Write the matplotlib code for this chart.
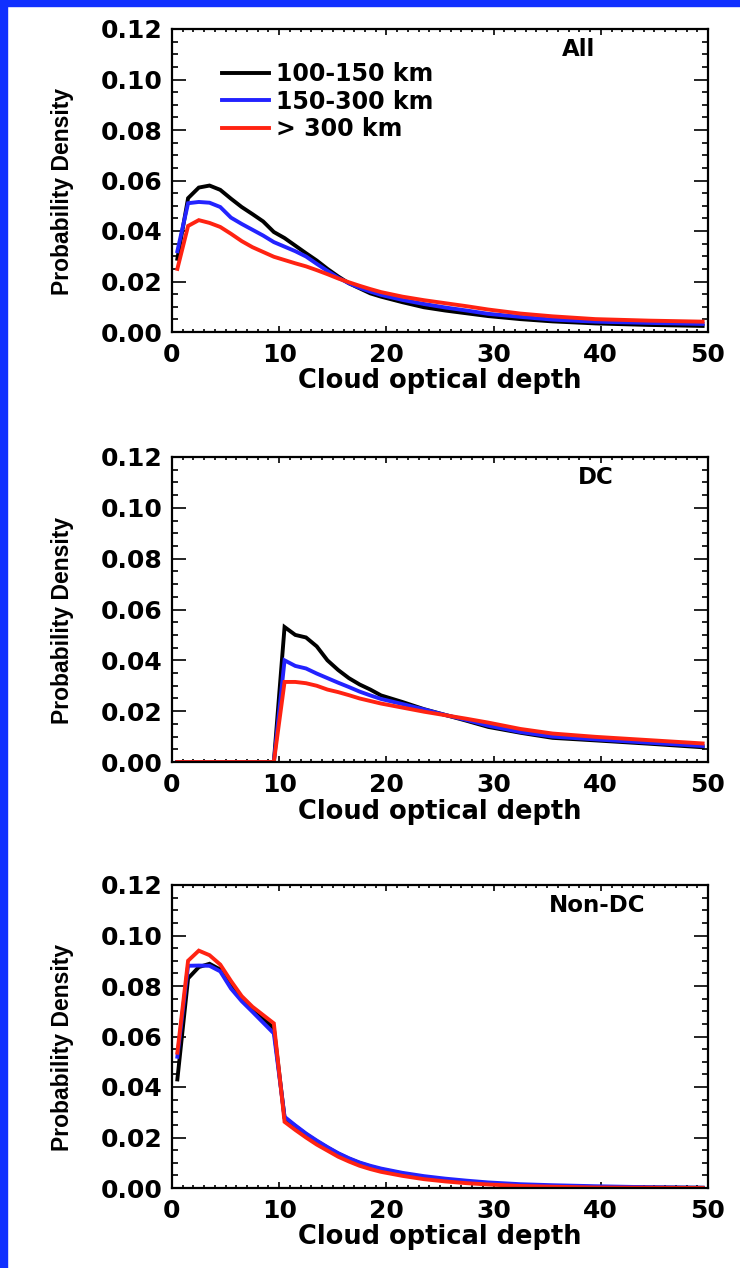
import matplotlib
matplotlib.use("Agg")
import matplotlib.pyplot as plt
from matplotlib.patches import Rectangle
from matplotlib.ticker import MultipleLocator, FormatStrFormatter

# bin centres of cloud optical depth
x_all = [0.5, 1.5, 2.5, 3.5, 4.5, 5.5, 6.5, 7.5, 8.5, 9.5, 10.5, 11.5, 12.5, 13.5, 14.5,
         15.5, 16.5, 17.5, 18.5, 19.5, 21.5, 23.5, 25.5, 27.5, 29.5, 32.5, 35.5, 39.5, 44.5, 49.5]
all_100_150 = [0.029, 0.053, 0.0572, 0.058, 0.0563, 0.0528, 0.0495, 0.0467, 0.0438, 0.0396,
               0.0372, 0.0342, 0.0312, 0.0283, 0.025, 0.022, 0.0193, 0.0173, 0.0153, 0.014,
               0.0118, 0.0098, 0.0085, 0.0074, 0.0063, 0.0051, 0.0042, 0.0034, 0.0028, 0.0024]
all_150_300 = [0.032, 0.051, 0.0515, 0.0512, 0.0495, 0.0453, 0.0428, 0.0405, 0.0382, 0.0356,
               0.0338, 0.032, 0.0299, 0.027, 0.0242, 0.0215, 0.0193, 0.0175, 0.016, 0.0147,
               0.0127, 0.0111, 0.0097, 0.0085, 0.0072, 0.006, 0.0049, 0.0041, 0.0036, 0.0032]
all_300 = [0.025, 0.042, 0.0443, 0.0432, 0.0416, 0.0389, 0.036, 0.0336, 0.0317, 0.0298,
           0.0285, 0.0272, 0.026, 0.0245, 0.0229, 0.0212, 0.0197, 0.0183, 0.017, 0.0158,
           0.014, 0.0126, 0.0114, 0.0102, 0.0089, 0.0073, 0.0062, 0.0051, 0.0045, 0.0041]

x_dc = [0.5, 9.5, 10.5, 11.5, 12.5, 13.5, 14.5, 15.5, 16.5, 17.5, 18.5, 19.5, 21.5, 23.5,
        25.5, 27.5, 29.5, 32.5, 35.5, 39.5, 44.5, 49.5]
dc_100_150 = [0, 0, 0.0531, 0.05, 0.049, 0.0455, 0.04, 0.0362, 0.033, 0.0305, 0.0285, 0.0262,
              0.0236, 0.0208, 0.0185, 0.0162, 0.0138, 0.0115, 0.0095, 0.0085, 0.0072, 0.0058]
dc_150_300 = [0, 0, 0.04, 0.0378, 0.0368, 0.0348, 0.033, 0.0312, 0.0295, 0.0277, 0.0262, 0.0248,
              0.0228, 0.0207, 0.0185, 0.0165, 0.0143, 0.0118, 0.01, 0.0089, 0.0076, 0.0063]
dc_300 = [0, 0, 0.0315, 0.0315, 0.031, 0.03, 0.0285, 0.0275, 0.0263, 0.025, 0.024, 0.023,
          0.0214, 0.0198, 0.0184, 0.017, 0.0155, 0.013, 0.0112, 0.0099, 0.0086, 0.0073]

x_ndc = x_all
ndc_100_150 = [0.043, 0.083, 0.0875, 0.0888, 0.0865, 0.0805, 0.0752, 0.0712, 0.0672, 0.0632,
               0.0278, 0.0245, 0.0213, 0.0185, 0.016, 0.0136, 0.0116, 0.0099, 0.0085, 0.0074,
               0.0057, 0.0043, 0.0032, 0.0024, 0.0018, 0.0011, 0.0007, 0.0004, 0.0002, 0.0001]
ndc_150_300 = [0.052, 0.088, 0.0881, 0.088, 0.0858, 0.079, 0.074, 0.0698, 0.0655, 0.0612,
               0.0282, 0.0248, 0.0216, 0.0188, 0.0162, 0.0138, 0.0118, 0.0101, 0.0088, 0.0077,
               0.006, 0.0047, 0.0037, 0.0029, 0.0022, 0.0015, 0.0011, 0.0007, 0.0003, 0.0001]
ndc_300 = [0.0536, 0.09, 0.094, 0.0922, 0.0885, 0.082, 0.076, 0.0718, 0.0685, 0.0652,
           0.0262, 0.023, 0.02, 0.0172, 0.0148, 0.0124, 0.0105, 0.0088, 0.0075, 0.0064,
           0.0048, 0.0035, 0.0026, 0.0019, 0.0014, 0.0008, 0.0005, 0.0002, 0.0001, 0.0]

labels = ["100-150 km", "150-300 km", "> 300 km"]
colors = ["black", "#2323ff", "#ff2312"]
panel_names = ["All", "DC", "Non-DC"]
panel_name_x = [37.9, 39.5, 39.7]

panels = [(x_all, [all_100_150, all_150_300, all_300]),
          (x_dc, [dc_100_150, dc_150_300, dc_300]),
          (x_ndc, [ndc_100_150, ndc_150_300, ndc_300])]

W, H = 740, 1268
fig = plt.figure(figsize=(W / 100, H / 100), dpi=100)
fig.patch.set_facecolor("white")
# blue frame on left and top edge
fig.patches.append(Rectangle((0, 0), 7 / W, 1, transform=fig.transFigure, color="#1030ff", zorder=0))
fig.patches.append(Rectangle((0, 1 - 6 / H), 1, 6 / H, transform=fig.transFigure, color="#1030ff", zorder=0))

boxes = [(29, 332), (457, 762), (885, 1188)]   # top, bottom in px
tick_font = dict(family="DejaVu Sans", weight="bold", size=18)

for i, ((xs, series), (top, bot)) in enumerate(zip(panels, boxes)):
    ax = fig.add_axes([172 / W, (H - bot) / H, 536 / W, (bot - top) / H])
    for ys, c, lab in zip(series, colors, labels):
        ax.plot(xs, ys, color=c, lw=2.8, label=lab, solid_joinstyle="miter")
    ax.set_xlim(0, 50)
    ax.set_ylim(0, 0.12)
    ax.xaxis.set_major_locator(MultipleLocator(10))
    ax.xaxis.set_minor_locator(MultipleLocator(1))
    ax.yaxis.set_major_locator(MultipleLocator(0.02))
    ax.yaxis.set_minor_locator(MultipleLocator(0.005))
    ax.yaxis.set_major_formatter(FormatStrFormatter("%.2f"))
    ax.tick_params(which="both", direction="in", top=True, right=True, width=1.2)
    ax.tick_params(axis="x", which="major", length=4.5, pad=8)
    ax.tick_params(axis="x", which="minor", length=2.2)
    ax.tick_params(axis="y", which="major", length=10, pad=7)
    ax.tick_params(axis="y", which="minor", length=4.5)
    for sp in ax.spines.values():
        sp.set_linewidth(1.6)
    for t in ax.get_xticklabels() + ax.get_yticklabels():
        t.set_fontproperties(tick_font)
    ax.set_xlabel("Cloud optical depth", family="DejaVu Sans", weight="bold", fontsize=18.5, va="top")
    ax.xaxis.set_label_coords(0.5, -0.12)
    ax.set_ylabel("Probability Density", family="Liberation Sans",
                  weight="bold", fontsize=16.5, va="center")
    ax.yaxis.set_label_coords(-0.205, 0.465)
    ax.text(panel_name_x[i], 0.1118, panel_names[i], ha="center", va="center",
            family="DejaVu Sans", weight="bold", fontsize=16.5)
    if i == 0:
        ax.legend(loc="upper left", bbox_to_anchor=(0.093, 0.89), frameon=False,
                  prop=dict(family="DejaVu Sans", weight="bold", size=17),
                  handlelength=2.0, handletextpad=0.3, labelspacing=0.14,
                  borderpad=0, borderaxespad=0)

fig.savefig("out.png", dpi=100)
